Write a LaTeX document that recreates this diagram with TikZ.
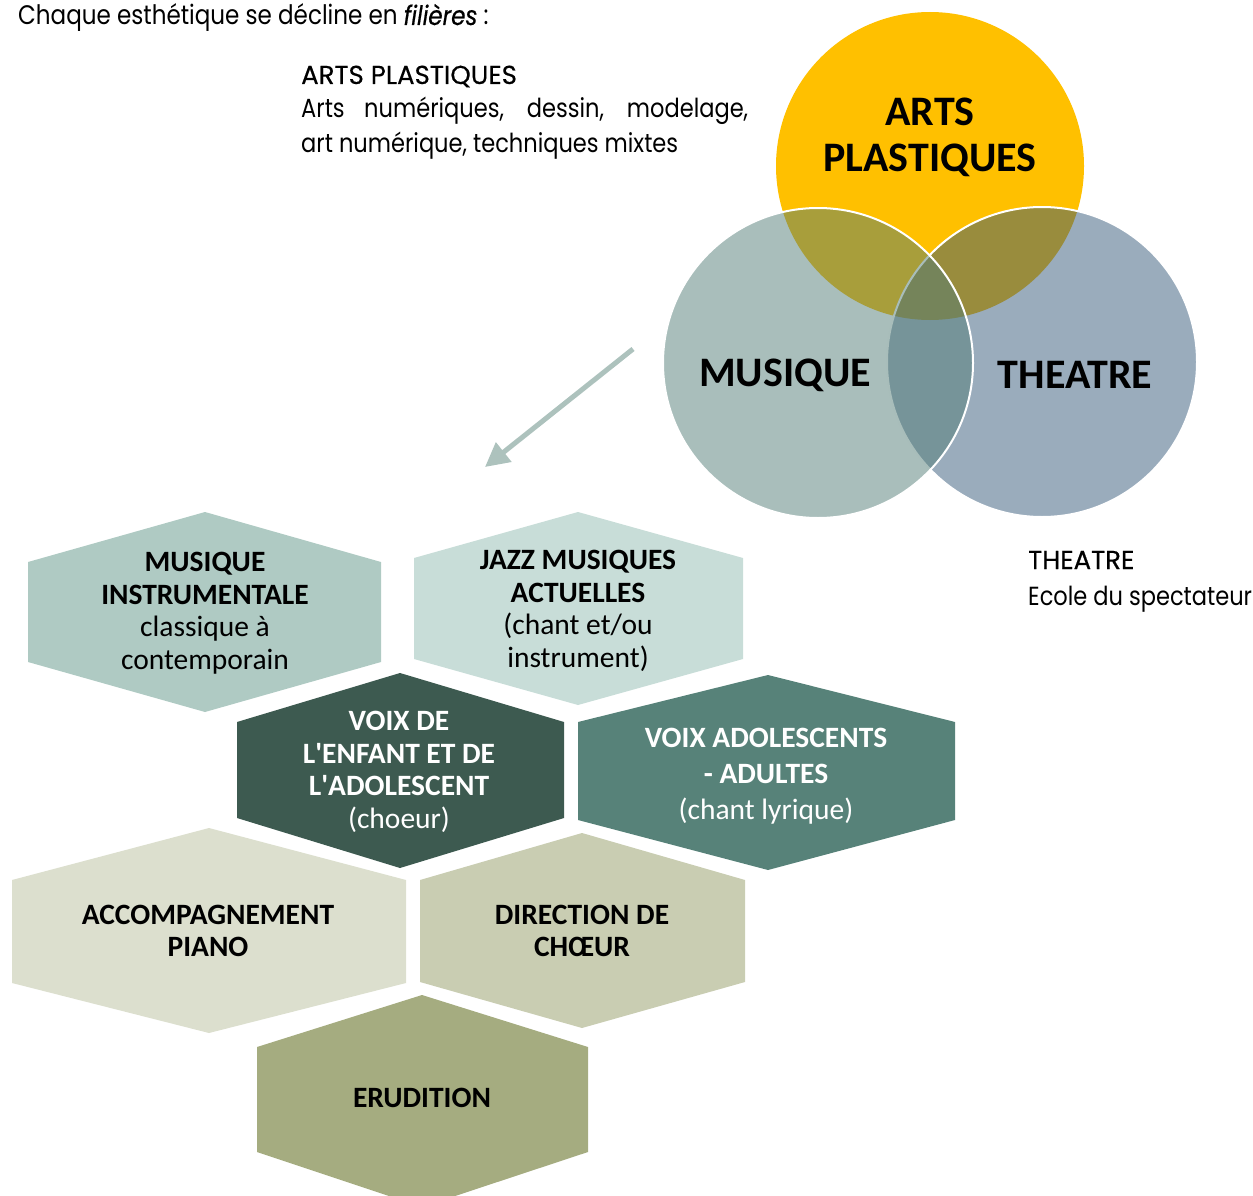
\documentclass[tikz,border=0pt]{standalone}
\usepackage{fontspec}
\setmainfont{Carlito}
\newfontfamily\futura[FakeStretch=0.86]{Poppins}
\newfontfamily\futurahead[FakeBold=0.4]{Poppins}
\usetikzlibrary{arrows.meta}
\definecolor{yel}{HTML}{FFC000}
\definecolor{mus}{HTML}{537D77}
\definecolor{the}{HTML}{35597A}
\definecolor{hexA}{HTML}{AFCAC3}
\definecolor{hexB}{HTML}{C8DDD8}
\definecolor{hexC}{HTML}{3D5A50}
\definecolor{hexD}{HTML}{578279}
\definecolor{hexE}{HTML}{DCDFCE}
\definecolor{hexF}{HTML}{C9CDB2}
\definecolor{hexG}{HTML}{A5AC80}
\definecolor{arr}{HTML}{ADC2BD}
\begin{document}
\begin{tikzpicture}[x=1pt,y=-1pt,
  futtxt/.style={inner sep=0pt, font=\futura\fontsize{26.2}{31}\selectfont},
  futhead/.style={inner sep=0pt, font=\futurahead\fontsize{26}{31}\selectfont},
  venntxt/.style={inner sep=0pt, align=center, font=\bfseries\fontsize{42}{46}\selectfont},
  hextxt/.style={inner sep=0pt, align=center, font=\fontsize{29.5}{32.6}\selectfont},
  hexbold/.style={inner sep=0pt, align=center, font=\bfseries\fontsize{29.5}{32}\selectfont}]
\useasboundingbox (0,0) rectangle (1253,1196);
\clip (0,0) rectangle (1253,1196);

% texts
\node[futtxt, anchor=base west, font=\futura\fontsize{26.8}{31}\selectfont] (title) at (18,25) {Chaque esthétique se décline en {\itshape\addfontfeature{FakeBold=0.6}filières} :};
\node[futhead, anchor=base west] (aph) at (301,84) {ARTS PLASTIQUES};
\node[futtxt, anchor=base west] (ap1) at (301,118) {\makebox[447pt][s]{Arts numériques, dessin, modelage,}};
\node[futtxt, anchor=base west] (ap2) at (301,153) {art numérique, techniques mixtes};
\node[futhead, anchor=base west] (thh) at (1028,569) {THEATRE};
\node[futtxt, anchor=base west] (th1) at (1028,605) {Ecole du spectateur};

% venn
\fill[yel] (930,166) circle[radius=154];
\fill[the, fill opacity=0.5] (1042,362) circle[radius=155];
\draw[white, line width=2pt] (1042,362) circle[radius=155];
\fill[mus, fill opacity=0.5] (818,363) circle[radius=155];
\draw[white, line width=2pt] (818,363) circle[radius=155];
\node[venntxt] (vap) at (930,137) {ARTS\\PLASTIQUES};
\node[venntxt] (vmu) at (785,375) {MUSIQUE};
\node[venntxt] (vth) at (1075,375) {THEATRE};

% arrow
\coordinate (as) at (633,349);
\coordinate (ae) at (485,467);
\draw[arr, line width=5pt, -{Triangle[length=24pt,width=24pt]}] (as) -- (ae);

% hexagons
\fill[hexA] (205,512) -- (381,562) -- (381,662) -- (205,712) -- (28,662) -- (28,562) -- cycle;
\fill[hexB] (578,512) -- (743,558) -- (743,659) -- (578,705) -- (414,659) -- (414,558) -- cycle;
\fill[hexC] (400,673) -- (564,722) -- (564,818) -- (400,868) -- (237,818) -- (237,722) -- cycle;
\fill[hexD] (768,675) -- (955,722) -- (955,820) -- (768,870) -- (578,820) -- (578,722) -- cycle;
\fill[hexE] (209,828) -- (406,880) -- (406,983) -- (209,1033) -- (12,983) -- (12,880) -- cycle;
\fill[hexF] (582,833) -- (745,880) -- (745,982) -- (582,1028) -- (420,982) -- (420,880) -- cycle;
\fill[hexG] (422,995) -- (588,1047) -- (588,1152) -- (422,1207) -- (257,1152) -- (257,1047) -- cycle;

\node[hextxt] (h1) at (205,613) {\textbf{MUSIQUE}\\\textbf{INSTRUMENTALE}\\classique à\\contemporain};
\node[hextxt] (h2) at (578,611) {\textbf{JAZZ MUSIQUES}\\\textbf{ACTUELLES}\\(chant et/ou\\instrument)};
\node[hextxt, text=white] (h3) at (399,772) {\textbf{VOIX DE}\\\textbf{L\textquotesingle ENFANT ET DE}\\\textbf{L\textquotesingle ADOLESCENT}\\(choeur)};
\node[hextxt, text=white, font=\fontsize{29.5}{36}\selectfont] (h4) at (766,776) {\textbf{VOIX ADOLESCENTS}\\\textbf{- ADULTES}\\(chant lyrique)};
\node[hexbold] (h5) at (208,931) {ACCOMPAGNEMENT\\PIANO};
\node[hexbold] (h6) at (582,931) {DIRECTION DE\\CHŒUR};
\node[hexbold] (h7) at (422,1098) {ERUDITION};
\end{tikzpicture}
\end{document}
